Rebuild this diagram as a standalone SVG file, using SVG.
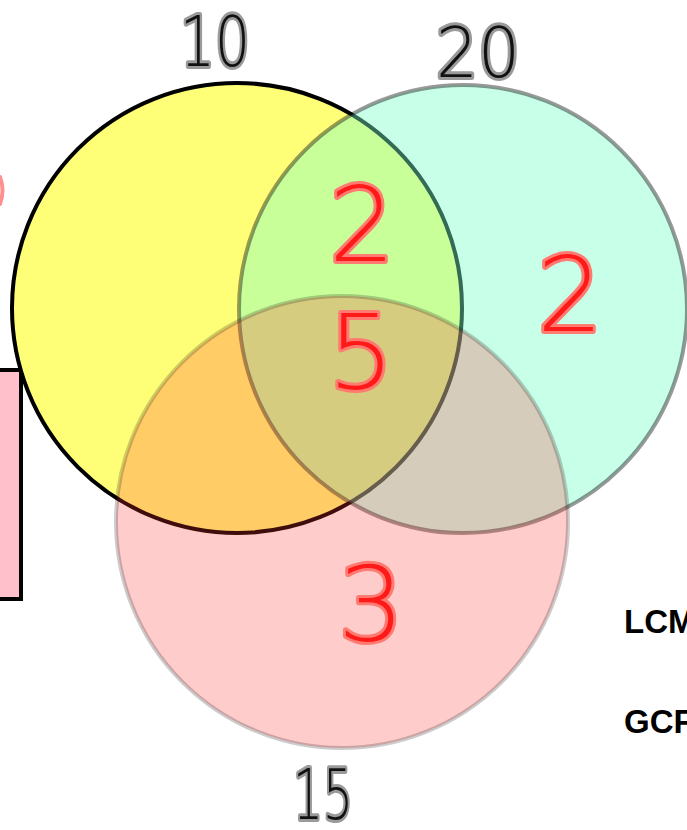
<svg xmlns="http://www.w3.org/2000/svg" width="687" height="830" viewBox="0 0 687 830">
  <style>
    .ink { font-family: "DejaVu Sans", "Liberation Sans", sans-serif; font-weight: 200; paint-order: stroke; stroke-linejoin: round; stroke-linecap: round; }
    .black { fill: #111; stroke: #9a9a9a; stroke-width: 6; font-size: 70px; }
    .red { fill: #ff1a1a; stroke: #ff7a70; stroke-width: 6; font-size: 104px; }
    .label { font-family: "Liberation Sans", "DejaVu Sans", sans-serif; font-weight: bold; font-size: 33px; fill: #000; }
  </style>
  <rect width="687" height="830" fill="#ffffff"/>

  <!-- side fragments at the left edge -->
  <g id="side-box">
    <rect x="-10" y="370" width="31" height="229" fill="#ffc0cb" stroke="#000" stroke-width="4"/>
  </g>
  <g id="side-mark">
    <path d="M0 177 Q5 190 0 204" fill="none" stroke="#ff9090" stroke-width="4" stroke-linecap="round"/>
  </g>

  <!-- set circles, translucent so the overlaps mix -->
  <g id="set-10">
    <circle cx="237" cy="308" r="225" fill="#ffff77" stroke="#000" stroke-width="4"/>
  </g>
  <g id="set-20">
    <circle cx="463" cy="309" r="224" fill="#7cffc8" fill-opacity="0.42" stroke="#000" stroke-opacity="0.4" stroke-width="4"/>
  </g>
  <g id="set-15">
    <circle cx="342" cy="522" r="226" fill="#ff3333" fill-opacity="0.25" stroke="#000" stroke-opacity="0.2" stroke-width="4"/>
  </g>

  <!-- set labels -->
  <g id="labels">
    <text class="ink black" x="180" y="66" textLength="70" lengthAdjust="spacingAndGlyphs">10</text>
    <text class="ink black" x="436" y="77" textLength="84" lengthAdjust="spacingAndGlyphs">20</text>
    <text class="ink black" x="293" y="819" textLength="60" lengthAdjust="spacingAndGlyphs">15</text>
  </g>

  <!-- region counts -->
  <g id="counts">
    <text class="ink red" x="329" y="261">2</text>
    <text class="ink red" x="328" y="389">5</text>
    <text class="ink red" x="537" y="331">2</text>
    <text class="ink red" x="338" y="641">3</text>
  </g>

  <g id="legend">
    <text class="label" x="624" y="633">LCM</text>
    <text class="label" x="624" y="733">GCF</text>
  </g>
</svg>
